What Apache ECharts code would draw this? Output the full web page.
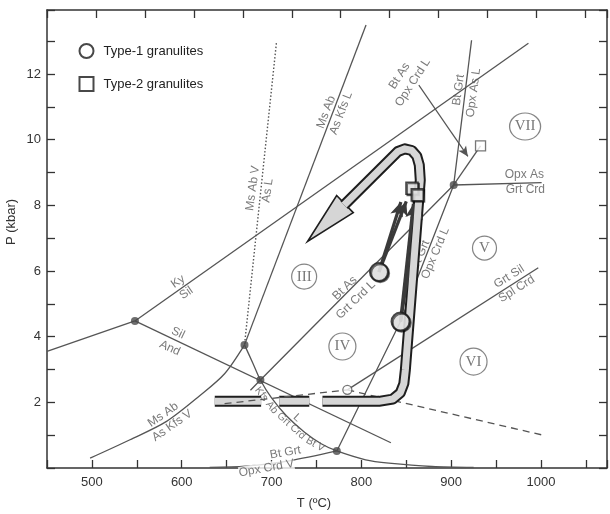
<!DOCTYPE html>
<html><head><meta charset="utf-8">
<script src="https://cdn.jsdelivr.net/npm/echarts@6/dist/echarts.min.js"></script>
<style>html,body{margin:0;padding:0;background:#fff}#c{width:610px;height:514px}</style>
</head><body><div id="c"></div>
<script>
// ---------- axes ----------
const xMin = 450, xMax = 1073.5, xStep = 50;
const yMin = 0, yMax = 13.95, yStep = 1;
const xLabelValues = [500, 600, 700, 800, 900, 1000];
const yLabelValues = [2, 4, 6, 8, 10, 12];

// ---------- phase boundaries (T in °C, P in kbar) ----------
const andKy = [[450, 3.55], [547.9, 4.48]];
const kySil = [[547.9, 4.48], [986.0, 12.94]];
const silAnd = [[547.9, 4.48], [832.9, 0.77]];
const msAbV_AsL = [[705.4, 12.94], [669.9, 3.75]];
const msAb_AsKfsL = [[669.9, 3.75], [805.2, 13.49]];
const msAb_AsKfsV = [[498.0, 0.30], [542.4, 0.86], [583.1, 1.42], [620.0, 2.20], [647.7, 2.87], [669.9, 3.75]];
const kfsAbGrtCrdBtV_L = [[669.9, 3.75], [679.1, 3.20], [687.6, 2.68], [699.8, 2.14], [716.5, 1.59], [736.4, 1.10], [755.3, 0.74], [772.7, 0.52], [804.8, 0.25], [830.6, 0.15], [878.7, 0.046], [925, 0.015]];
const btGrt_OpxCrdV = [[631.1, 0.02], [671.0, 0.06], [719.8, 0.22], [772.7, 0.52]];
const btGrt_OpxCrdL = [[772.7, 0.52], [843.6, 4.46], [902.8, 8.62]];
const btGrt_OpxAsL = [[902.8, 8.62], [922.7, 13.03]];
const opxAs_GrtCrd = [[902.8, 8.62], [1000.7, 8.69]];
const btAs_GrtCrdL = [[676.5, 2.37], [687.6, 2.68], [902.8, 8.62]];
const btAs_OpxCrdL = [[902.8, 8.62], [932.7, 9.81]];
const grtSil_SplCrd = [[784.4, 2.38], [997.0, 6.10]];
const dashedLeft = [[647.7, 1.96], [784.4, 2.38]];
const dashedRight = [[784.4, 2.38], [1000.7, 1.01]];
const pointerArrow = [[864.0, 11.66], [918.6, 9.49]];

// ---------- points ----------
const junctions = [[547.9, 4.48], [669.9, 3.75], [687.6, 2.68], [772.7, 0.52], [902.8, 8.62]];
const openCircleSmall = [[784.4, 2.38]];
const openSquareSmall = [[932.7, 9.81]];
const type1 = [[819.6, 5.97], [843.6, 4.46]];
const type2 = [[856.4, 8.52], [862.3, 8.32]];
const type1Arrows = [[[819.6, 5.97], [844, 8.1]], [[819.6, 5.97], [850, 8.12]], [[843.6, 4.46], [858, 8.05]], [[843.6, 4.46], [864, 8.0]]];

// ---------- P-T path band ----------
const pathSeg1 = [[636.8, 2.03], [688.4, 2.03]];
const pathSeg2 = [[708.6, 2.03], [742.0, 2.03]];
const pathSeg3 = [[756.7, 2.03], [819.6, 2.03], [835.1, 2.10], [843.4, 2.29], [847.3, 2.57], [849.0, 2.99], [863.9, 8.17], [865.6, 8.77], [864.5, 9.23], [861.7, 9.50], [856.2, 9.67], [848.4, 9.72], [840.7, 9.64], [780.8, 8.01]];
const arrowHead = [[740.1, 6.90], [772.5, 8.30], [791.0, 7.78]];

// ---------- fields ----------
const romanText = ['III', 'IV', 'V', 'VI', 'VII'];
const romanPos = [[736.3, 5.83], [778.9, 3.70], [937.1, 6.70], [924.9, 3.24], [982.3, 10.40]];
const romanSize = [[25, 25], [27, 27], [24, 24], [27, 27], [31, 27]];

// ---------- reaction labels ----------
const labelTexts = ['Ky', 'Sil', 'Sil', 'And', 'Ms Ab', 'As Kfs L', 'Ms Ab V', 'As L', 'Bt As', 'Grt Crd L',
  'Bt Grt', 'Opx Crd L', 'Bt Grt', 'Opx As L', 'Bt As', 'Opx Crd L', 'Opx As', 'Grt Crd', 'Grt Sil', 'Spl Crd',
  'Ms Ab', 'As Kfs V', 'Kfs Ab', 'Grt Crd', 'Bt V', 'L', 'Bt Grt', 'Opx Crd V'];
const labelPos = [[596.0, 5.68], [605.2, 5.33], [595.9, 4.11], [586.7, 3.65], [760.8, 10.84], [777.5, 10.81],
  [679.1, 8.52], [695.7, 8.45], [781.6, 5.48], [793.8, 5.12], [865.7, 6.48], [882.5, 6.54], [908.3, 11.51],
  [924.9, 11.43], [842.5, 11.94], [857.3, 11.74], [981.5, 8.93], [982.6, 8.49], [964.5, 5.83], [972.9, 5.45],
  [579.3, 1.62], [589.3, 1.29], [694.1, 2.06], [721.8, 1.28], [748.6, 0.72], [728.3, 1.53], [715.4, 0.47], [694.3, -0.01]];
const labelRot = [35, 35, -25, -25, 69, 69, 82, 82, 44, 44, 67, 67, 82, 82, 57, 57, 0, 0, 32, 32, 35, 35, -52, -42, -30, -42, 10, 10];
const labelSize = [12, 12, 12, 12, 12, 12, 12, 12, 12, 12, 12, 12, 12, 12, 12, 12, 12, 12, 12, 12, 12, 12, 10.5, 10.5, 10.5, 11, 12, 12];

const FONT = '"Liberation Sans", Arial, Helvetica, sans-serif';
const LINE = '#555';
const TXT = '#585858';

function ln(data, extra) {
  return Object.assign({
    type: 'line', data: data, symbol: 'none', showSymbol: false, silent: true, z: 2,
    lineStyle: { color: LINE, width: 1.3 }
  }, extra || {});
}
function band(data, color, width, z) {
  return { type: 'line', data: data, symbol: 'none', silent: true, z: z,
    lineStyle: { color: color, width: width, cap: 'butt', join: 'round' } };
}

const axisCommon = {
  axisLine: { show: true, onZero: false, lineStyle: { color: '#333', width: 1.5 } },
  axisTick: { show: true, inside: true, length: 8, lineStyle: { color: '#333', width: 1.3 } },
  splitLine: { show: false }
};

const chart = echarts.init(document.getElementById('c'), null, { renderer: 'canvas' });
const option = {
  animation: false,
  backgroundColor: '#fff',
  textStyle: { fontFamily: FONT },
  grid: { left: 47, right: 1, top: 10, bottom: 46 },
  legend: {
    orient: 'vertical', left: 73.5, top: 38, itemWidth: 14, itemHeight: 14, itemGap: 17,
    data: ['Type-1 granulites', 'Type-2 granulites'],
    itemStyle: { borderWidth: 2, borderColor: '#1a1a1a', color: '#fff' },
    textStyle: { fontSize: 13, color: '#222', fontFamily: FONT, padding: [0, 0, 0, 5] }
  },
  xAxis: [
    Object.assign({ type: 'value', min: xMin, max: xMax, interval: xStep, position: 'bottom',
      axisLabel: { fontSize: 13, color: '#333', margin: 8, fontFamily: FONT, hideOverlap: false,
        formatter: v => xLabelValues.indexOf(v) >= 0 ? String(v) : '' } }, axisCommon),
    Object.assign({ type: 'value', min: 0, max: 11.44, interval: 1, position: 'top', axisLabel: { show: false } }, axisCommon)
  ],
  yAxis: [
    Object.assign({ type: 'value', min: yMin, max: yMax, interval: yStep, position: 'left',
      axisLabel: { fontSize: 13, color: '#333', margin: 6, fontFamily: FONT,
        formatter: v => yLabelValues.indexOf(v) >= 0 ? String(v) : '' } }, axisCommon),
    Object.assign({ type: 'value', min: yMin, max: yMax, interval: yStep, position: 'right', axisLabel: { show: false } }, axisCommon)
  ],
  graphic: [
    { type: 'text', x: 314, y: 503, style: { text: 'T (ºC)', fill: '#333', font: '13px ' + FONT, align: 'center', verticalAlign: 'middle' } },
    { type: 'text', x: 11, y: 222, rotation: Math.PI / 2, style: { text: 'P (kbar)', fill: '#333', font: '13px ' + FONT, align: 'center', verticalAlign: 'middle' } }
  ],
  series: [
    ln(andKy), ln(kySil), ln(silAnd),
    ln(msAbV_AsL, { lineStyle: { color: LINE, width: 1.4, type: [1.5, 2] } }),
    ln(msAb_AsKfsL), ln(msAb_AsKfsV, { smooth: 0.3 }), ln(kfsAbGrtCrdBtV_L, { smooth: 0.3 }),
    ln(btGrt_OpxCrdV, { smooth: 0.3 }), ln(btGrt_OpxCrdL), ln(btGrt_OpxAsL), ln(opxAs_GrtCrd),
    ln(btAs_GrtCrdL), ln(btAs_OpxCrdL), ln(grtSil_SplCrd),
    ln(dashedRight, { lineStyle: { color: LINE, width: 1.3, type: [7, 5] } }),
    // pointer arrow
    { type: 'line', data: [], silent: true, z: 2,
      markLine: { silent: true, symbol: ['none', 'arrow'], symbolSize: [7, 10], label: { show: false },
        lineStyle: { color: LINE, width: 1.2, type: 'solid' }, animation: false,
        data: [[{ coord: pointerArrow[0] }, { coord: pointerArrow[1] }]] } },
    // reaction labels
    { type: 'scatter', symbolSize: 0, silent: true, z: 2, clip: false,
      data: labelTexts.map((t, i) => ({ value: labelPos[i], name: t,
        label: { show: true, position: 'inside', formatter: t, rotate: labelRot[i], fontSize: labelSize[i], color: TXT, fontFamily: FONT,
          backgroundColor: i === labelTexts.length - 1 ? '#fff' : 'transparent' } })) },
    // arrowhead of P-T path
    { type: 'custom', z: 3, silent: true, data: arrowHead,
      renderItem: function (params, api) {
        if (params.dataIndex !== 0) return null;
        const pts = arrowHead.map(p => api.coord(p));
        return { type: 'polygon', shape: { points: pts }, style: { fill: '#d6d6d6', stroke: '#1e1e1e', lineWidth: 1.6, lineJoin: 'miter' } };
      } },
    // P-T path band
    band(pathSeg1, '#1e1e1e', 11, 4), band(pathSeg2, '#1e1e1e', 11, 4), band(pathSeg3, '#1e1e1e', 11, 4),
    band(pathSeg1, '#d6d6d6', 7, 5), band(pathSeg2, '#d6d6d6', 7, 5), band(pathSeg3, '#d6d6d6', 7, 5),
    ln(dashedLeft, { z: 6, lineStyle: { color: LINE, width: 1.3, type: [7, 5] } }),
    // dark P-T arrows
    { type: 'line', data: [], silent: true, z: 7,
      markLine: { silent: true, symbol: ['none', 'arrow'], symbolSize: [10, 14], label: { show: false }, animation: false,
        lineStyle: { color: '#3a3a3a', width: 3.2, type: 'solid' },
        data: type1Arrows.map(a => [{ coord: a[0] }, { coord: a[1] }]) } },
    // junction points
    { type: 'scatter', silent: true, z: 8, symbol: 'circle', symbolSize: 8, itemStyle: { color: '#4a4a4a' }, data: junctions },
    { type: 'scatter', silent: true, z: 8, symbol: 'circle', symbolSize: 9, itemStyle: { color: '#fff', borderColor: LINE, borderWidth: 1.3 }, data: openCircleSmall },
    { type: 'scatter', silent: true, z: 8, symbol: 'rect', symbolSize: 10, itemStyle: { color: '#fff', borderColor: LINE, borderWidth: 1.3 }, data: openSquareSmall },
    // field numbers
    { type: 'scatter', silent: true, z: 8, symbol: 'circle',
      data: romanText.map((t, i) => ({ value: romanPos[i], symbolSize: romanSize[i], name: t })),
      itemStyle: { color: '#fff', borderColor: '#666', borderWidth: 1.2 },
      label: { show: true, position: 'inside', formatter: p => p.name, fontFamily: '"Liberation Serif", "DejaVu Serif", serif', fontSize: 15, color: '#555' } },
    // samples
    { name: 'Type-1 granulites', type: 'scatter', z: 9, symbol: 'circle', symbolSize: 18, data: type1,
      itemStyle: { color: '#fff', borderColor: '#1a1a1a', borderWidth: 2, shadowColor: 'rgba(0,0,0,0.7)', shadowOffsetX: 1.2, shadowOffsetY: 1.2, shadowBlur: 0 } },
    { name: 'Type-2 granulites', type: 'scatter', z: 9, symbol: 'rect', symbolSize: 12, data: type2,
      itemStyle: { color: '#fff', borderColor: '#1a1a1a', borderWidth: 1.6, shadowColor: 'rgba(0,0,0,0.7)', shadowOffsetX: 1.2, shadowOffsetY: 1.2, shadowBlur: 0 } }
  ]
};
chart.setOption(option);
</script>
</body></html>
